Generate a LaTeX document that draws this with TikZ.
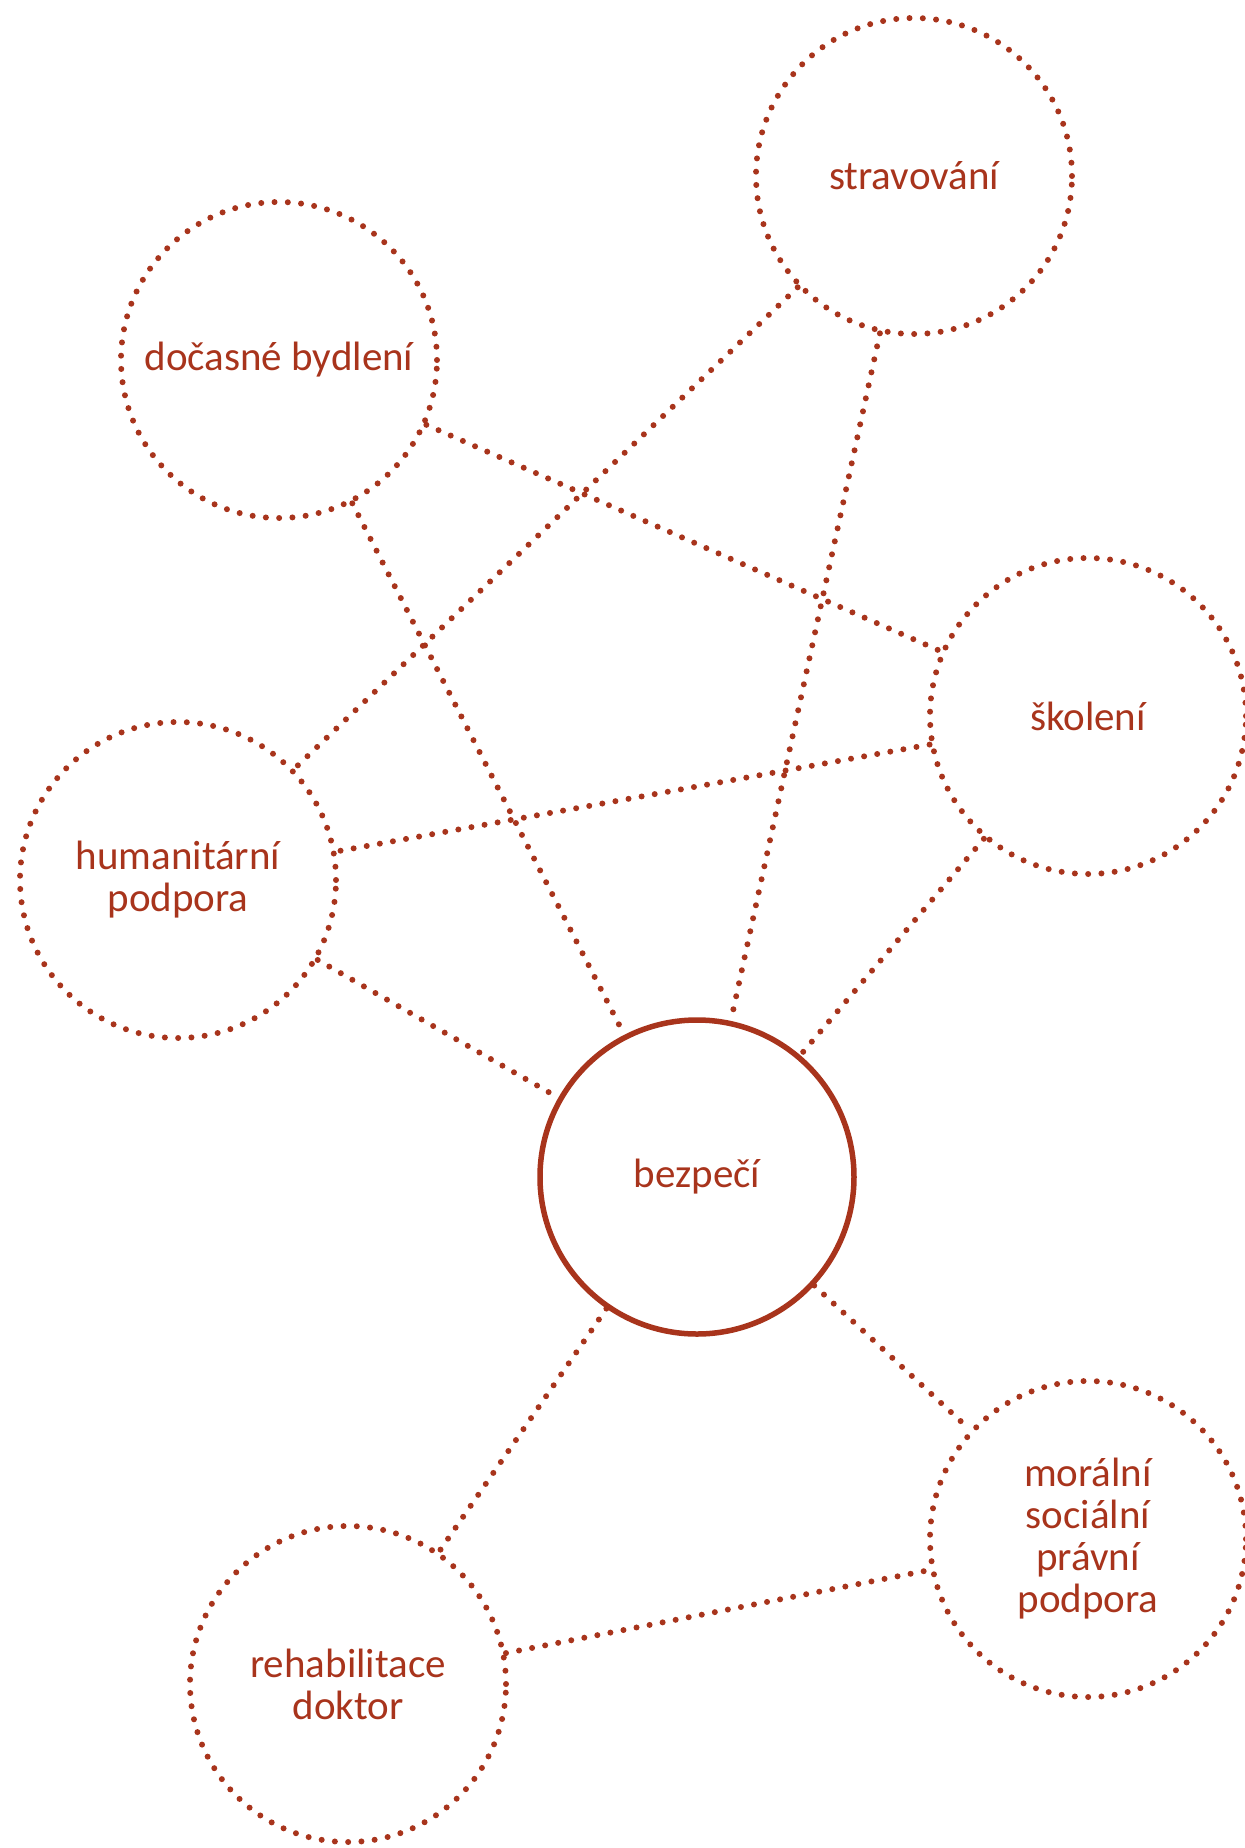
\documentclass[tikz,border=0pt]{standalone}
\usepackage{fontspec}
\setmainfont{Carlito}
\definecolor{rust}{RGB}{168,52,28}
\begin{document}
\begin{tikzpicture}[x=1pt,y=-1pt,
  dotline/.style={draw=rust, line width=6pt, line cap=round, dash pattern=on 0pt off 13.3pt},
  label/.style={text=rust, font=\fontsize{41}{42}\selectfont, align=center},
  bubble/.style={circle, minimum size=316pt, inner sep=0pt, dotline, label},
  hub/.style={circle, minimum size=314pt, inner sep=0pt, draw=rust, line width=5.5pt, label},
  link/.style={dotline}]
\useasboundingbox (0,0) rectangle (1245,1848);
\node[bubble] (strav) at (914,176) {stravování};
\node[bubble] (bydl) at (279,360) {dočasné bydlení};
\node[bubble] (skol) at (1088,716) {školení};
\node[bubble] (hum) at (178,880) {humanitární\\podpora};
\node[hub] (bez) at (697,1177) {bezpečí};
\node[bubble] (mor) at (1088,1539) {morální\\sociální\\právní\\podpora};
\node[bubble] (reh) at (348,1684) {rehabilitace\\doktor};
\draw[link] (strav) -- (hum);
\draw[link] (strav) -- (bez);
\draw[link] (bydl) -- (skol);
\draw[link] (bydl) -- (bez);
\draw[link] (skol) -- (hum);
\draw[link] (skol) -- (bez);
\draw[link] (hum) -- (bez);
\draw[link] (bez) -- (mor);
\draw[link] (bez) -- (reh);
\draw[link] (reh) -- (mor);
\end{tikzpicture}
\end{document}
